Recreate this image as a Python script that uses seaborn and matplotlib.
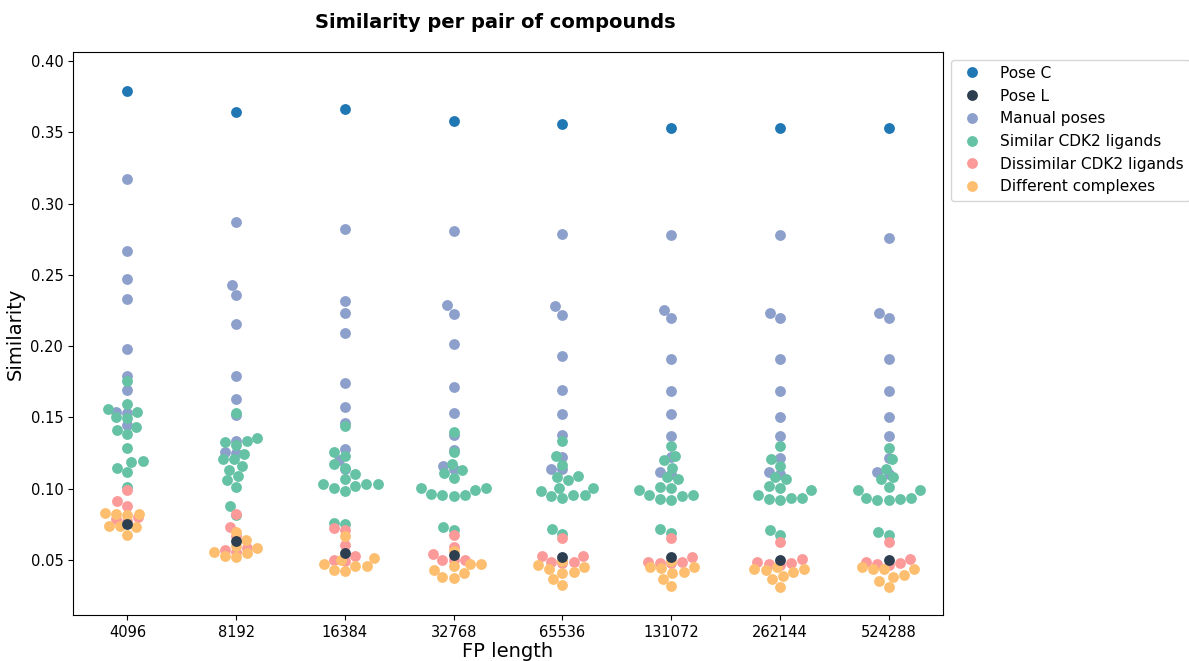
import matplotlib
matplotlib.use("Agg")
import matplotlib.pyplot as plt
from matplotlib.lines import Line2D
import pandas as pd
import seaborn as sns

# Fingerprint lengths (x categories)
fp_lengths = ["4096", "8192", "16384", "32768", "65536", "131072", "262144", "524288"]

# Similarity values per fingerprint length, one list per group
pose_c = [0.379, 0.364, 0.366, 0.358, 0.356, 0.353, 0.353, 0.353]
pose_l = [0.0749, 0.0636, 0.0549, 0.0535, 0.0519, 0.0519, 0.0502, 0.0502]

manual_poses = [
    [0.317, 0.267, 0.247, 0.233, 0.198, 0.179, 0.169, 0.1535, 0.1528, 0.145],
    [0.287, 0.2428, 0.2358, 0.2158, 0.179, 0.1627, 0.1516, 0.1335, 0.1258, 0.1251],
    [0.2825, 0.232, 0.2233, 0.209, 0.174, 0.1575, 0.1462, 0.1277, 0.1204, 0.1140],
    [0.281, 0.2285, 0.2225, 0.2015, 0.1713, 0.153, 0.1375, 0.127, 0.116, 0.1135],
    [0.279, 0.228, 0.222, 0.193, 0.1692, 0.1523, 0.1376, 0.1225, 0.1141, 0.1141],
    [0.278, 0.2255, 0.2195, 0.1908, 0.1688, 0.1521, 0.1369, 0.1223, 0.1117, 0.1106],
    [0.278, 0.2235, 0.2195, 0.1908, 0.1685, 0.1502, 0.1369, 0.1218, 0.1120, 0.1106],
    [0.2758, 0.2235, 0.2195, 0.1908, 0.1685, 0.1502, 0.1369, 0.1218, 0.1117, 0.1106],
]

similar_ligands = [
    [0.1756, 0.1594, 0.1556, 0.1540, 0.1505, 0.1498, 0.1434, 0.1411, 0.1387, 0.1282,
     0.1192, 0.1188, 0.1146, 0.1117, 0.1012],
    [0.1533, 0.1359, 0.1336, 0.1329, 0.1305, 0.1242, 0.1211, 0.1209, 0.1157, 0.1134,
     0.1087, 0.1059, 0.1012, 0.0878, 0.0814],
    [0.1441, 0.1258, 0.1230, 0.1176, 0.1146, 0.1100, 0.1066, 0.1031, 0.1031, 0.1031,
     0.1016, 0.1007, 0.0984, 0.0760, 0.0753],
    [0.1399, 0.1258, 0.1171, 0.1129, 0.1113, 0.1077, 0.1007, 0.1005, 0.0988, 0.0965,
     0.0958, 0.0958, 0.0946, 0.0730, 0.0707],
    [0.1333, 0.1228, 0.1164, 0.1087, 0.1082, 0.1059, 0.1007, 0.1007, 0.0984, 0.0958,
     0.0958, 0.0946, 0.0934, 0.0714, 0.0683],
    [0.1300, 0.1228, 0.1200, 0.1148, 0.1082, 0.1066, 0.1012, 0.1005, 0.0988, 0.0958,
     0.0958, 0.0946, 0.0930, 0.0923, 0.0714, 0.0690],
    [0.1300, 0.1207, 0.1160, 0.1082, 0.1070, 0.1016, 0.1005, 0.0988, 0.0958, 0.0937,
     0.0934, 0.0930, 0.0923, 0.0711, 0.0676],
    [0.1282, 0.1207, 0.1141, 0.1082, 0.1066, 0.1012, 0.0988, 0.0988, 0.0937, 0.0934,
     0.0930, 0.0923, 0.0923, 0.0695, 0.0676],
]

dissimilar_ligands = [
    [0.0988, 0.0911, 0.0876, 0.0800, 0.0785, 0.0770],
    [0.0819, 0.0730, 0.0667, 0.0582, 0.0570, 0.0555],
    [0.0723, 0.0707, 0.0608, 0.0530, 0.0502, 0.0495],
    [0.0676, 0.0589, 0.0542, 0.0502, 0.0500, 0.0500],
    [0.0653, 0.0526, 0.0526, 0.0488, 0.0484, 0.0477],
    [0.0655, 0.0523, 0.0488, 0.0484, 0.0477, 0.0477],
    [0.0629, 0.0507, 0.0484, 0.0477, 0.0472, 0.0465],
    [0.0629, 0.0507, 0.0484, 0.0477, 0.0472, 0.0465],
]

different_complexes = [
    [0.0826, 0.0819, 0.0819, 0.0812, 0.0740, 0.0737, 0.0730, 0.0678],
    [0.0695, 0.0643, 0.0600, 0.0585, 0.0559, 0.0547, 0.0530, 0.0524],
    [0.0669, 0.0512, 0.0497, 0.0472, 0.0455, 0.0455, 0.0432, 0.0425],
    [0.0560, 0.0472, 0.0472, 0.0460, 0.0432, 0.0406, 0.0383, 0.0373],
    [0.0495, 0.0465, 0.0448, 0.0437, 0.0413, 0.0406, 0.0366, 0.0324],
    [0.0495, 0.0448, 0.0448, 0.0441, 0.0413, 0.0406, 0.0366, 0.0315],
    [0.0448, 0.0434, 0.0434, 0.0430, 0.0413, 0.0385, 0.0366, 0.0312],
    [0.0448, 0.0434, 0.0434, 0.0434, 0.0394, 0.0383, 0.0350, 0.0312],
]

legend_order = ["Pose C", "Pose L", "Manual poses", "Similar CDK2 ligands",
                "Dissimilar CDK2 ligands", "Different complexes"]
colors = {
    "Pose C": "#1f77b4",
    "Pose L": "#2c3e50",
    "Manual poses": "#8da0cb",
    "Similar CDK2 ligands": "#66c2a5",
    "Dissimilar CDK2 ligands": "#fb9a99",
    "Different complexes": "#fdbf6f",
}

# Long-format table
rows = []
for i, fp in enumerate(fp_lengths):
    rows.append(("Pose C", fp, pose_c[i]))
    rows.append(("Pose L", fp, pose_l[i]))
    for v in manual_poses[i]:
        rows.append(("Manual poses", fp, v))
    for v in similar_ligands[i]:
        rows.append(("Similar CDK2 ligands", fp, v))
    for v in dissimilar_ligands[i]:
        rows.append(("Dissimilar CDK2 ligands", fp, v))
    for v in different_complexes[i]:
        rows.append(("Different complexes", fp, v))
df = pd.DataFrame(rows, columns=["group", "fp", "similarity"])

fig = plt.figure(figsize=(11.89, 6.61), dpi=100)
ax = fig.add_axes([0.0614, 0.0696, 0.7317, 0.8517])

# Each group is swarmed on its own, drawn back to front
draw_order = ["Pose C", "Manual poses", "Similar CDK2 ligands",
              "Dissimilar CDK2 ligands", "Different complexes", "Pose L"]
for k, g in enumerate(draw_order):
    sub = df[df["group"] == g]
    sns.swarmplot(data=sub, x="fp", y="similarity", order=fp_lengths,
                  color=colors[g], size=7.8, linewidth=0, ax=ax, zorder=2 + k)

ax.set_xlim(-0.5, len(fp_lengths) - 0.5)
ax.set_ylim(0.0114, 0.4063)
ax.set_yticks([0.05, 0.10, 0.15, 0.20, 0.25, 0.30, 0.35, 0.40])
ax.set_yticklabels([f"{t:.2f}" for t in ax.get_yticks()])
ax.tick_params(axis="both", labelsize=10.5)

ax.set_xlabel("FP length", fontsize=14, labelpad=2)
ax.set_ylabel("Similarity", fontsize=14)
ax.set_title("Similarity per pair of compounds", fontsize=14, fontweight="bold",
             x=0.485, pad=17)

handles = [Line2D([0], [0], marker="o", linestyle="", markersize=7.8,
                  markerfacecolor=colors[g], markeredgewidth=0, label=g)
           for g in legend_order]
ax.legend(handles=handles, loc="upper left", bbox_to_anchor=(1, 1), fontsize=11.1)

fig.savefig("out.png", dpi=100)
